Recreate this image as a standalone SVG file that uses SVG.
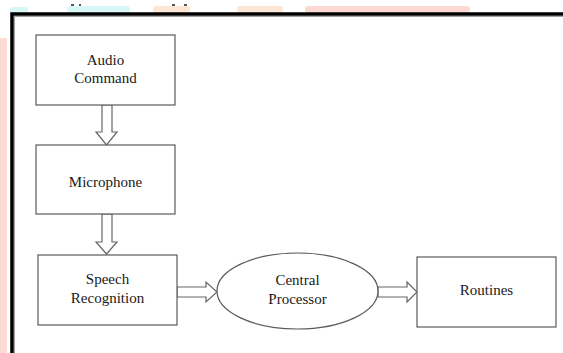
<svg xmlns="http://www.w3.org/2000/svg" width="563" height="353" viewBox="0 0 563 353">
<style>
.box{fill:#fff;stroke:#5a5a5a;stroke-width:1.2}
.arr{fill:#fff;stroke:#666;stroke-width:1.2;stroke-linejoin:miter}
.lbl{font-family:'Liberation Serif','Times New Roman',Tinos,serif;font-size:15px;fill:#1a1a1a;text-anchor:middle}
</style>
<rect width="563" height="353" fill="#fff"/>
<g id="background">
<rect x="10" y="7" width="18" height="6" rx="2" fill="#d8f8f8"/>
<rect x="67" y="6" width="63" height="7" rx="3" fill="#d8f8f8"/>
<rect x="153" y="6" width="37" height="7" rx="3" fill="#fde6d3"/>
<rect x="237" y="6" width="46" height="7" rx="3" fill="#fde6d3"/>
<rect x="305" y="6" width="165" height="7" rx="3" fill="#fdd8d2"/>
<rect x="0" y="38" width="7" height="315" fill="#fddcd6"/>
<rect x="71" y="4" width="3" height="2" fill="#555"/>
<rect x="79" y="4" width="2" height="2" fill="#555"/>
<rect x="172" y="4" width="3" height="2" fill="#555"/>
<rect x="184" y="4" width="3" height="2" fill="#555"/>
<path d="M12 353 V14 H563" fill="none" stroke="#000" stroke-width="3.5"/>
<path d="M14.5 353 V16.5 H563" fill="none" stroke="#888" stroke-width="0.8"/>
</g>
<g id="connectors">
<path class="arr" d="M102 105 V132 H96 L106.5 145 L117 132 H112 V105 Z"/>
<path class="arr" d="M102 214 V242 H96 L106.5 254 L117 242 H112 V214 Z"/>
<path class="arr" d="M177 287 H206 V282 L217 292 L206 302 V297 H177 Z"/>
<path class="arr" d="M378 287 H407 V282 L417 292 L407 302 V297 H378 Z"/>
</g>
<g id="audio-command">
<rect class="box" x="36" y="35" width="139" height="70"/>
<text class="lbl" x="105.5" y="65">Audio</text>
<text class="lbl" x="105.5" y="83">Command</text>
</g>
<g id="microphone">
<rect class="box" x="36" y="145" width="139" height="69"/>
<text class="lbl" x="105.5" y="187">Microphone</text>
</g>
<g id="speech-recognition">
<rect class="box" x="38" y="255" width="139" height="70"/>
<text class="lbl" x="107.5" y="284">Speech</text>
<text class="lbl" x="107.5" y="303">Recognition</text>
</g>
<g id="central-processor">
<ellipse class="box" cx="297.5" cy="291" rx="80.5" ry="38"/>
<text class="lbl" x="297.5" y="285">Central</text>
<text class="lbl" x="297.5" y="304">Processor</text>
</g>
<g id="routines">
<rect class="box" x="417" y="257" width="139" height="70"/>
<text class="lbl" x="486.5" y="295">Routines</text>
</g>
</svg>
